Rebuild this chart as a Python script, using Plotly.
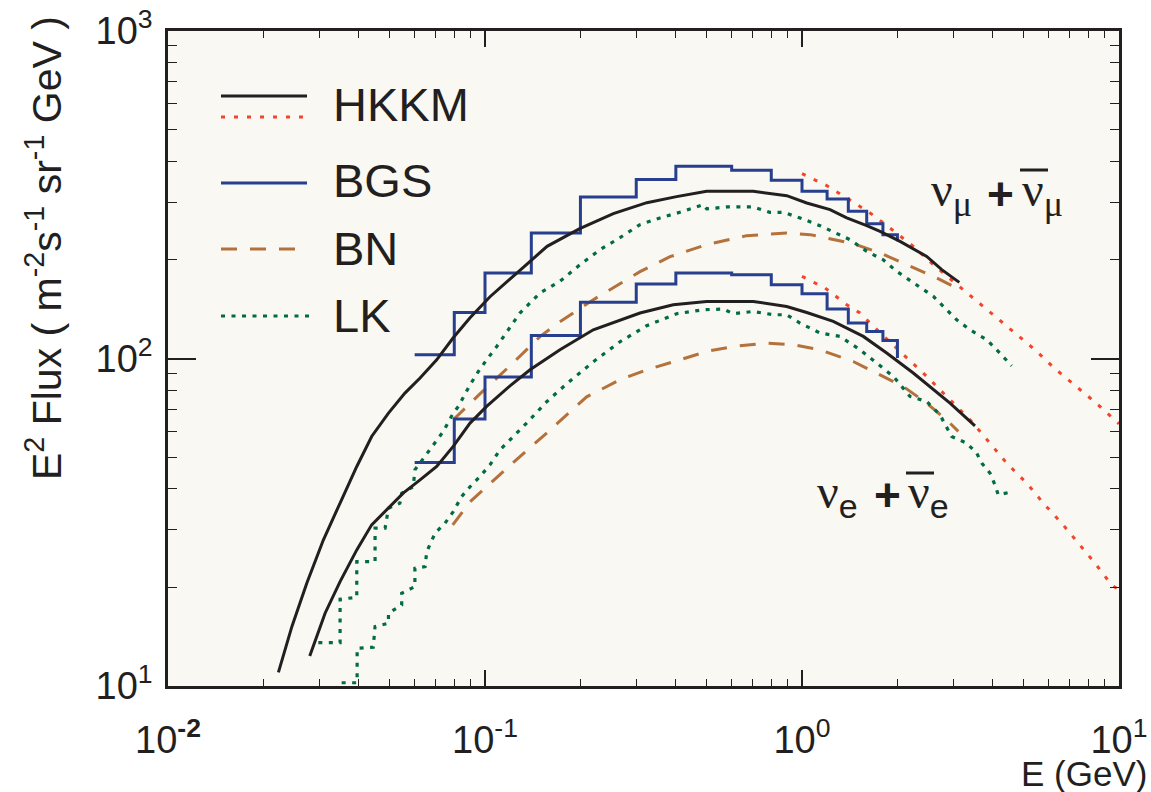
import plotly.graph_objects as go

# ---------------- data (E in GeV, E^2 Flux in m^-2 s^-1 sr^-1 GeV) ----------------
# HKKM (solid black), nu_mu + nu_mu-bar
hkkm_mu_E = [0.0223, 0.0246, 0.0274, 0.0309, 0.0349, 0.0394, 0.0439, 0.0496, 0.0559, 0.0624,
             0.0704, 0.0794, 0.0897, 0.1037, 0.126, 0.157, 0.199, 0.254, 0.324, 0.402,
             0.500, 0.702, 0.895, 1.035, 1.226, 1.384, 1.600, 1.763, 2.038, 2.474, 2.759, 3.135]
hkkm_mu_F = [11.0, 15.2, 20.6, 27.9, 36.2, 46.8, 57.8, 68.1, 78.4, 87.2,
             99.1, 115.7, 133.2, 154.4, 182.4, 220.0, 249.2, 276.9, 299.1, 312.1,
             324.0, 324.0, 314.2, 298.5, 284.8, 268.7, 254.4, 244.5, 227.9, 205.0, 186.7, 170.8]
# HKKM (solid black), nu_e + nu_e-bar
hkkm_e_E = [0.0280, 0.0313, 0.0349, 0.0394, 0.0439, 0.0496, 0.0552, 0.0624, 0.0704, 0.0794,
            0.0897, 0.1012, 0.1199, 0.1387, 0.1724, 0.2196, 0.3083, 0.3926, 0.5004, 0.7022,
            0.8946, 1.035, 1.255, 1.561, 1.850, 2.244, 2.596, 2.930, 3.513]
hkkm_e_F = [12.35, 16.68, 20.83, 26.04, 31.05, 34.91, 38.80, 42.61, 46.79, 53.9,
            63.5, 71.4, 82.55, 92.4, 106.3, 122.4, 137.7, 146.0, 149.4, 149.4,
            144.2, 138.2, 129.8, 116.8, 103.9, 90.3, 80.3, 73.1, 62.3]
# HKKM high-energy (red dotted)
hkkm_hi_mu_E = [1.0, 1.196, 1.41, 1.651, 1.941, 2.244, 2.596, 3.001, 3.470, 4.062, 4.697,
                5.433, 6.250, 7.228, 8.359, 10.0]
hkkm_hi_mu_F = [366.9, 337.3, 305.6, 276.9, 245.7, 220.0, 193.4, 172.0, 153.0, 135.4, 119.6,
                106.3, 93.5, 83.1, 73.9, 63.2]
hkkm_hi_e_E = [1.0, 1.182, 1.384, 1.524, 1.763, 2.139, 2.474, 2.894, 3.388, 3.918, 4.422,
               5.115, 5.770, 6.596, 7.441, 8.401, 9.48, 10.0]
hkkm_hi_e_F = [178.1, 164.2, 146.0, 137.7, 119.8, 100.3, 88.2, 75.7, 65.0, 55.15, 47.92,
               41.63, 36.17, 31.42, 27.30, 23.71, 20.35, 19.65]

# BGS (blue histogram): bin edges and bin contents
bgs_edges = [0.06, 0.08, 0.1, 0.14, 0.2, 0.3, 0.4, 0.6, 0.8, 1.0, 1.2, 1.4, 1.6, 1.8, 2.0]
bgs_mu = [102.7, 138.2, 182.4, 241.7, 311.4, 351.8, 386.3, 375.5, 350.0, 324.0, 307.0,
          281.5, 258.1, 238.9]
bgs_mu_end = 227.9
bgs_e = [48.1, 65.3, 87.8, 117.5, 148.4, 168.8, 182.4, 180.3, 168.0, 157.7, 141.6,
         128.3, 120.9, 113.5]
bgs_e_end = 100.3

# BN (brown dashed)
bn_mu_E = [0.0794, 0.0964, 0.1199, 0.1491, 0.1724, 0.2196, 0.2539, 0.3083, 0.3834, 0.5004,
           0.6692, 0.8946, 1.060, 1.196, 1.451, 1.763, 2.139, 2.660, 3.151]
bn_mu_F = [65.0, 78.0, 95.0, 116.6, 129.5, 151.2, 164.5, 184.1, 204.6, 222.6,
           237.2, 241.7, 238.9, 233.4, 224.2, 210.0, 193.4, 176.1, 162.3]
bn_e_E = [0.0791, 0.0897, 0.1012, 0.1142, 0.1289, 0.1565, 0.2093, 0.2666, 0.3236, 0.4122,
          0.5004, 0.6073, 0.7738, 0.9389, 1.140, 1.451, 1.720, 2.087, 2.474, 2.930, 3.112]
bn_e_F = [31.05, 36.5, 40.6, 45.2, 50.2, 59.2, 76.4, 86.1, 92.4, 99.1,
          105.1, 108.8, 111.5, 110.2, 106.3, 97.9, 90.3, 82.1, 73.1, 63.5, 59.9]

# LK (green dotted)
lk_mu_E = [0.0298, 0.0349, 0.0349, 0.0394, 0.0394, 0.0450, 0.0450, 0.0484, 0.0496, 0.0539,
           0.0546, 0.0594, 0.0601, 0.0671, 0.0739, 0.0794, 0.0824, 0.0897, 0.0953, 0.1012,
           0.1089, 0.1289, 0.1491, 0.1724, 0.1994, 0.2306, 0.2666, 0.3083, 0.3565, 0.4222,
           0.4881, 0.5004, 0.5789, 0.7022, 0.7925, 0.8730, 0.9856, 1.140, 1.417, 1.600,
           1.80, 1.990, 2.244, 2.596, 2.791, 3.076, 3.388, 3.825, 4.113, 4.422, 4.586]
lk_mu_F = [13.56, 13.56, 18.40, 18.66, 23.98, 23.98, 30.34, 30.34, 34.91, 36.17,
           38.80, 40.6, 45.71, 52.62, 59.9, 68.14, 71.38, 83.1, 91.3, 99.1,
           108.8, 137.7, 158.5, 172.0, 193.4, 214.9, 233.9, 256.3, 268.7, 281.5,
           295.0, 286.2, 290.2, 290.2, 279.4, 279.4, 268.7, 254.4, 230.6, 212.4,
           200.4, 184.5, 170.1, 154.8, 144.2, 131.3, 122.4, 114.1, 106.3, 99.1, 95.0]
lk_e_E = [0.0353, 0.0395, 0.0395, 0.0444, 0.0450, 0.0496, 0.0496, 0.0546, 0.0546, 0.0601,
          0.0601, 0.0647, 0.0655, 0.0696, 0.0748, 0.0794, 0.0844, 0.0897, 0.0964, 0.1037,
          0.1115, 0.1199, 0.1353, 0.1565, 0.1810, 0.2196, 0.2666, 0.3236, 0.4024, 0.4881,
          0.5647, 0.6073, 0.7022, 0.8118, 0.8946, 0.9856, 1.140, 1.318, 1.524, 1.720,
          1.941, 2.191, 2.474, 2.724, 2.966, 3.308, 3.557, 3.689, 3.918, 4.062, 4.161, 4.475]
lk_e_F = [10.23, 10.23, 13.04, 13.13, 15.18, 15.54, 16.68, 17.68, 19.20, 20.11,
          22.88, 23.14, 25.73, 29.29, 31.42, 34.09, 37.89, 40.6, 43.61, 47.35,
          52.62, 56.45, 63.5, 73.77, 83.7, 97.7, 112.5, 125.9, 137.0, 140.9,
          141.6, 137.0, 139.2, 136.0, 136.0, 128.3, 119.6, 116.8, 106.3, 96.85,
          88.2, 76.6, 73.9, 67.3, 57.78, 55.15, 51.4, 47.92, 44.67, 41.14, 38.34, 38.96]

legend_names = ["HKKM", "BGS", "BN", "LK"]
x_tickvals = [0.01, 0.1, 1, 10]
x_ticktext = ["10<sup><b>-2</b></sup>", "10<sup>-1</sup>", "10<sup>0</sup>", "10<sup>1</sup>"]
y_tickvals = [10, 100, 1000]
y_ticktext = ["10<sup>1</sup>", "10<sup>2</sup>", "10<sup>3</sup>"]

# ---------------- styling ----------------
W, H = 1151, 792
ML, MR, MT, MB = 168, 32, 31, 106
PW = W - ML - MR
PH = H - MT - MB


def px(x):
    return (x - ML) / PW


def py(y):
    return (H - MB - y) / PH


BLACK = "#231F20"
RED = "#F2452B"
BLUE = "#273F8E"
BROWN = "#B4713B"
GREEN = "#006B45"
DOT_LK = "4px,6.5px"
DOT_RED = "4px,9px"
DASH_BN = "16px,13px"
SERIF = "Liberation Serif, Times New Roman"
SANS = "Liberation Sans, Arial"


def tr(x, y, color, dash="solid", width=3, shape="linear"):
    return go.Scatter(x=x, y=y, mode="lines",
                      line=dict(color=color, width=width, dash=dash, shape=shape),
                      showlegend=False, hoverinfo="skip")


def hist_xy(edges, vals, end):
    return edges + [edges[-1]], vals + [vals[-1], end]


fig = go.Figure()
fig.add_trace(tr(bn_mu_E, bn_mu_F, BROWN, DASH_BN))
fig.add_trace(tr(bn_e_E, bn_e_F, BROWN, DASH_BN))
fig.add_trace(tr(lk_mu_E, lk_mu_F, GREEN, DOT_LK, 3.2))
fig.add_trace(tr(lk_e_E, lk_e_F, GREEN, DOT_LK, 3.2))
fig.add_trace(tr(hkkm_hi_mu_E, hkkm_hi_mu_F, RED, DOT_RED, 3))
fig.add_trace(tr(hkkm_hi_e_E, hkkm_hi_e_F, RED, DOT_RED, 3))
bx, by = hist_xy(bgs_edges, bgs_mu, bgs_mu_end)
fig.add_trace(tr(bx, by, BLUE, "solid", 3, "hv"))
bx, by = hist_xy(bgs_edges, bgs_e, bgs_e_end)
fig.add_trace(tr(bx, by, BLUE, "solid", 3, "hv"))
fig.add_trace(tr(hkkm_mu_E, hkkm_mu_F, BLACK, "solid", 3))
fig.add_trace(tr(hkkm_e_E, hkkm_e_F, BLACK, "solid", 3))

shapes = []
annotations = []

# legend (drawn manually)
leg_rows = [
    (legend_names[0], 104, [(96, BLACK, "solid", 307), (117, RED, DOT_RED, 307)]),
    (legend_names[1], 180, [(183, BLUE, "solid", 307)]),
    (legend_names[2], 248, [(249, BROWN, DASH_BN, 307)]),
    (legend_names[3], 316, [(316, GREEN, DOT_LK, 309)]),
]
for name, ty, lines in leg_rows:
    for ly, col, dash, x1 in lines:
        shapes.append(dict(type="line", xref="paper", yref="paper",
                           x0=px(221), x1=px(x1), y0=py(ly), y1=py(ly),
                           line=dict(color=col, width=3, dash=dash)))
    annotations.append(dict(text=name, xref="paper", yref="paper", x=px(331), y=py(ty),
                            xanchor="left", yanchor="middle", showarrow=False,
                            font=dict(family=SANS, size=47, color=BLACK)))


def label(text, x, y, size, family, anchor="left"):
    annotations.append(dict(text=text, xref="paper", yref="paper", x=px(x), y=py(y),
                            xanchor=anchor, yanchor="middle", showarrow=False,
                            font=dict(family=family, size=size, color=BLACK)))


NU_MU = "ν<sub><span style='font-size:36px'>μ</span></sub>"
NU_E = "ν<sub><span style='font-family:Liberation Sans;font-size:34px'>e</span></sub>"
# nu_mu + anti-nu_mu
label(NU_MU, 929, 193, 48, SERIF)
label("<b>+</b>", 985, 194, 46, SANS)
label(NU_MU, 1020, 193, 48, SERIF)
shapes.append(dict(type="line", xref="paper", yref="paper", x0=px(1020), x1=px(1048),
                   y0=py(170), y1=py(170), line=dict(color=BLACK, width=3)))
# nu_e + anti-nu_e
label(NU_E, 815, 495, 48, SERIF)
label("<b>+</b>", 872, 495, 46, SANS)
label(NU_E, 906, 495, 48, SERIF)
shapes.append(dict(type="line", xref="paper", yref="paper", x0=px(906), x1=px(934),
                   y0=py(473), y1=py(473), line=dict(color=BLACK, width=3)))

# axis titles
label("E (GeV)", 1149, 773, 35, SANS, anchor="right")
annotations.append(dict(text="E<sup>2</sup> Flux ( m<sup>-2</sup>s<sup>-1</sup> sr<sup>-1</sup> GeV )",
                        xref="paper", yref="paper", x=px(44), y=py(248), textangle=-90,
                        xanchor="center", yanchor="middle", showarrow=False,
                        font=dict(family=SANS, size=41, color=BLACK)))

axis_common = dict(type="log", showline=True, linewidth=2.5, linecolor=BLACK, mirror="allticks",
                   ticks="inside", tickwidth=1.5, tickcolor=BLACK, showgrid=False, zeroline=False,
                   tickmode="array", automargin=False,
                   tickfont=dict(family=SANS, size=38, color=BLACK))

fig.update_layout(
    width=W, height=H,
    margin=dict(l=ML, r=MR, t=MT, b=MB, pad=0, autoexpand=False),
    paper_bgcolor="white", plot_bgcolor="#F9F8F2",
    xaxis=dict(axis_common, range=[-2, 1], tickvals=x_tickvals, ticktext=x_ticktext,
               ticklen=16, ticklabelstandoff=19,
               minor=dict(ticks="inside", ticklen=7, tickwidth=1.2, tickcolor=BLACK,
                          dtick="D1", showgrid=False)),
    yaxis=dict(axis_common, range=[1, 3], tickvals=y_tickvals, ticktext=y_ticktext,
               ticklen=28, ticklabelstandoff=5,
               minor=dict(ticks="inside", ticklen=9, tickwidth=1.2, tickcolor=BLACK,
                          dtick="D1", showgrid=False)),
    shapes=shapes, annotations=annotations,
    showlegend=False,
)

fig.write_html("out.html", config={"displayModeBar": False},
               post_script="document.body.style.margin='0';document.body.style.overflow='hidden';")
